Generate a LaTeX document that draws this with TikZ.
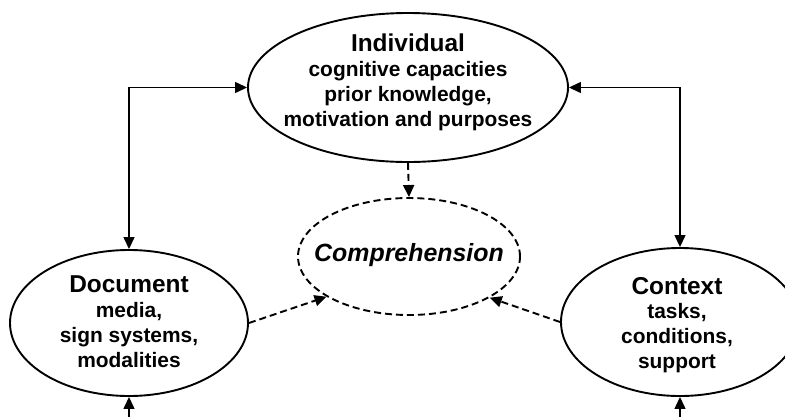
\documentclass[tikz,border=0pt]{standalone}
\usepackage{fontspec}
\setmainfont{Liberation Sans}
\usetikzlibrary{arrows.meta,shapes.geometric}

\newcommand{\hdfont}{\fontsize{24.5}{25}\selectfont}

\begin{document}
\begin{tikzpicture}[
      x=1bp,y=-1bp,
      every node/.style={font=\fontsize{21}{25}\selectfont\bfseries},
      blob/.style={draw=black,line width=1.9bp,ellipse,inner sep=0pt},
      hazy/.style={draw=black,line width=1.9bp,dash pattern=on 7bp off 4bp,ellipse,inner sep=0pt},
      txt/.style={align=center,inner sep=0pt},
      tip/.style={},
      ln/.style={draw=black,line width=1.3bp},
      dl/.style={draw=black,line width=1.9bp,dash pattern=on 7bp off 4bp},
      >={Triangle[length=12bp,width=11bp]}
    ]
    \useasboundingbox (0,0) rectangle (785,416);
    % shapes
    \node[blob,minimum width=320bp,minimum height=149bp] (indiv) at (408,87.5) {};
    \node[hazy,minimum width=222bp,minimum height=117bp] (comp) at (409,256.5) {};
    \node[blob,minimum width=238bp,minimum height=146bp] (doc) at (129,323) {};
    \node[blob,minimum width=238bp,minimum height=148bp] (ctx) at (680,322) {};
    % texts
    \node[txt] (indivtxt) at (408,82) {{\hdfont Individual}\\cognitive capacities\\prior knowledge,\\motivation and purposes};
    \node[txt,font=\fontsize{25}{25}\selectfont\bfseries\itshape] (comptxt) at (409,255.5) {Comprehension};
    \node[txt] (doctxt) at (129,322) {{\hdfont Document}\\media,\\sign systems,\\modalities};
    \node[txt] (ctxtxt) at (677,325) {{\hdfont Context}\\tasks,\\conditions,\\support};
    % links
    \draw[ln,<->] (doc.north) |- (indiv.west);
    \draw[ln,<->] (ctx.north) |- (indiv.east);
    \coordinate (docin) at (129,440);
    \coordinate (ctxin) at (680,440);
    \draw[ln,->] (docin) -- (doc.south);
    \draw[ln,->] (ctxin) -- (ctx.south);
    \draw[dl,->] (indiv.south) -- (comp.north);
    \draw[dl,->] (doc.east) -- (comp.206);
    \draw[dl,->] (ctx.west) -- (comp.333);
  \end{tikzpicture}
\end{document}
